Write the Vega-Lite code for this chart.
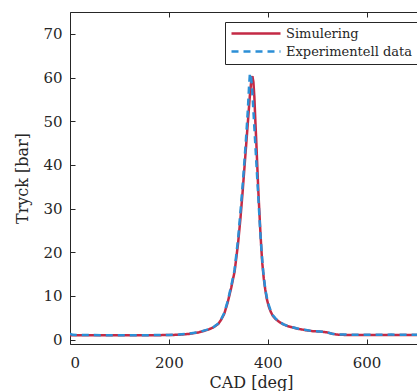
{
  "$schema": "https://vega.github.io/schema/vega-lite/v6.json",
  "width": 347,
  "height": 332,
  "autosize": {"type": "none"},
  "padding": {"left": 70, "top": 12, "right": 0, "bottom": 47},
  "background": "white",
  "config": {
    "view": {"stroke": null},
    "font": "DejaVu Serif",
    "axis": {
      "domainColor": "#262626",
      "tickColor": "#262626",
      "labelColor": "#262626",
      "titleColor": "#262626",
      "labelFontSize": 15,
      "titleFontSize": 16,
      "titleFontWeight": "normal",
      "tickSize": -5,
      "grid": false,
      "domainWidth": 1,
      "tickWidth": 1
    },
    "legend": {
      "orient": "none",
      "legendX": 155,
      "legendY": 10,
      "strokeColor": "#262626",
      "fillColor": "white",
      "padding": 5,
      "labelFontSize": 13,
      "labelColor": "#262626",
      "rowPadding": 4,
      "cornerRadius": 0
    }
  },
  "data": {
    "values": [
      {"serie": "Simulering", "cad": 0, "tryck": 1.0},
      {"serie": "Simulering", "cad": 40, "tryck": 1.0},
      {"serie": "Simulering", "cad": 80, "tryck": 0.98},
      {"serie": "Simulering", "cad": 120, "tryck": 1.0},
      {"serie": "Simulering", "cad": 160, "tryck": 1.0},
      {"serie": "Simulering", "cad": 200, "tryck": 1.05},
      {"serie": "Simulering", "cad": 220, "tryck": 1.12},
      {"serie": "Simulering", "cad": 240, "tryck": 1.3},
      {"serie": "Simulering", "cad": 260, "tryck": 1.65},
      {"serie": "Simulering", "cad": 280, "tryck": 2.3},
      {"serie": "Simulering", "cad": 290, "tryck": 2.8},
      {"serie": "Simulering", "cad": 300, "tryck": 3.6},
      {"serie": "Simulering", "cad": 306, "tryck": 4.6},
      {"serie": "Simulering", "cad": 312, "tryck": 5.9},
      {"serie": "Simulering", "cad": 319, "tryck": 8.5},
      {"serie": "Simulering", "cad": 326, "tryck": 11.8},
      {"serie": "Simulering", "cad": 333, "tryck": 15.6},
      {"serie": "Simulering", "cad": 340, "tryck": 22},
      {"serie": "Simulering", "cad": 345, "tryck": 28},
      {"serie": "Simulering", "cad": 349, "tryck": 33.5},
      {"serie": "Simulering", "cad": 353, "tryck": 39.5},
      {"serie": "Simulering", "cad": 357, "tryck": 45.5},
      {"serie": "Simulering", "cad": 361, "tryck": 51.5},
      {"serie": "Simulering", "cad": 364, "tryck": 56},
      {"serie": "Simulering", "cad": 367, "tryck": 59.6},
      {"serie": "Simulering", "cad": 369, "tryck": 60.3},
      {"serie": "Simulering", "cad": 371, "tryck": 59},
      {"serie": "Simulering", "cad": 373, "tryck": 55.5},
      {"serie": "Simulering", "cad": 375, "tryck": 50},
      {"serie": "Simulering", "cad": 377, "tryck": 45},
      {"serie": "Simulering", "cad": 379, "tryck": 39.5},
      {"serie": "Simulering", "cad": 381, "tryck": 34},
      {"serie": "Simulering", "cad": 383, "tryck": 29.5},
      {"serie": "Simulering", "cad": 385, "tryck": 25},
      {"serie": "Simulering", "cad": 387, "tryck": 21},
      {"serie": "Simulering", "cad": 389, "tryck": 17.5},
      {"serie": "Simulering", "cad": 392, "tryck": 14},
      {"serie": "Simulering", "cad": 395, "tryck": 11.5},
      {"serie": "Simulering", "cad": 398, "tryck": 9.4},
      {"serie": "Simulering", "cad": 402, "tryck": 7.6},
      {"serie": "Simulering", "cad": 406, "tryck": 6.4},
      {"serie": "Simulering", "cad": 410, "tryck": 5.5},
      {"serie": "Simulering", "cad": 416, "tryck": 4.7},
      {"serie": "Simulering", "cad": 424, "tryck": 4.0},
      {"serie": "Simulering", "cad": 432, "tryck": 3.5},
      {"serie": "Simulering", "cad": 440, "tryck": 3.1},
      {"serie": "Simulering", "cad": 450, "tryck": 2.8},
      {"serie": "Simulering", "cad": 460, "tryck": 2.5},
      {"serie": "Simulering", "cad": 475, "tryck": 2.2},
      {"serie": "Simulering", "cad": 490, "tryck": 1.95},
      {"serie": "Simulering", "cad": 505, "tryck": 1.85},
      {"serie": "Simulering", "cad": 515, "tryck": 1.75},
      {"serie": "Simulering", "cad": 522, "tryck": 1.6},
      {"serie": "Simulering", "cad": 530, "tryck": 1.35},
      {"serie": "Simulering", "cad": 540, "tryck": 1.15},
      {"serie": "Simulering", "cad": 555, "tryck": 1.08},
      {"serie": "Simulering", "cad": 580, "tryck": 1.05},
      {"serie": "Simulering", "cad": 620, "tryck": 1.05},
      {"serie": "Simulering", "cad": 660, "tryck": 1.05},
      {"serie": "Simulering", "cad": 700, "tryck": 1.05},
      {"serie": "Simulering", "cad": 720, "tryck": 1.05},
      {"serie": "Experimentell data", "cad": 0, "tryck": 1.35},
      {"serie": "Experimentell data", "cad": 5, "tryck": 1.1},
      {"serie": "Experimentell data", "cad": 40, "tryck": 1.05},
      {"serie": "Experimentell data", "cad": 80, "tryck": 1.0},
      {"serie": "Experimentell data", "cad": 120, "tryck": 1.0},
      {"serie": "Experimentell data", "cad": 160, "tryck": 1.02},
      {"serie": "Experimentell data", "cad": 200, "tryck": 1.08},
      {"serie": "Experimentell data", "cad": 220, "tryck": 1.15},
      {"serie": "Experimentell data", "cad": 240, "tryck": 1.35},
      {"serie": "Experimentell data", "cad": 260, "tryck": 1.7},
      {"serie": "Experimentell data", "cad": 280, "tryck": 2.35},
      {"serie": "Experimentell data", "cad": 290, "tryck": 2.85},
      {"serie": "Experimentell data", "cad": 300, "tryck": 3.7},
      {"serie": "Experimentell data", "cad": 306, "tryck": 4.7},
      {"serie": "Experimentell data", "cad": 312, "tryck": 6.1},
      {"serie": "Experimentell data", "cad": 319, "tryck": 8.8},
      {"serie": "Experimentell data", "cad": 326, "tryck": 12.2},
      {"serie": "Experimentell data", "cad": 333, "tryck": 16},
      {"serie": "Experimentell data", "cad": 340, "tryck": 23},
      {"serie": "Experimentell data", "cad": 345, "tryck": 29.5},
      {"serie": "Experimentell data", "cad": 349, "tryck": 35},
      {"serie": "Experimentell data", "cad": 353, "tryck": 41},
      {"serie": "Experimentell data", "cad": 357, "tryck": 47.5},
      {"serie": "Experimentell data", "cad": 360, "tryck": 53},
      {"serie": "Experimentell data", "cad": 362, "tryck": 57.5},
      {"serie": "Experimentell data", "cad": 364, "tryck": 61},
      {"serie": "Experimentell data", "cad": 366, "tryck": 60.5},
      {"serie": "Experimentell data", "cad": 368, "tryck": 58},
      {"serie": "Experimentell data", "cad": 370, "tryck": 54.5},
      {"serie": "Experimentell data", "cad": 373, "tryck": 48.5},
      {"serie": "Experimentell data", "cad": 376, "tryck": 42.5},
      {"serie": "Experimentell data", "cad": 379, "tryck": 36.5},
      {"serie": "Experimentell data", "cad": 382, "tryck": 30.5},
      {"serie": "Experimentell data", "cad": 385, "tryck": 24.5},
      {"serie": "Experimentell data", "cad": 388, "tryck": 19.5},
      {"serie": "Experimentell data", "cad": 391, "tryck": 15.5},
      {"serie": "Experimentell data", "cad": 394, "tryck": 12.5},
      {"serie": "Experimentell data", "cad": 397, "tryck": 10.3},
      {"serie": "Experimentell data", "cad": 401, "tryck": 8.3},
      {"serie": "Experimentell data", "cad": 406, "tryck": 6.6},
      {"serie": "Experimentell data", "cad": 410, "tryck": 5.6},
      {"serie": "Experimentell data", "cad": 416, "tryck": 4.8},
      {"serie": "Experimentell data", "cad": 424, "tryck": 4.05},
      {"serie": "Experimentell data", "cad": 432, "tryck": 3.5},
      {"serie": "Experimentell data", "cad": 440, "tryck": 3.15},
      {"serie": "Experimentell data", "cad": 450, "tryck": 2.85},
      {"serie": "Experimentell data", "cad": 460, "tryck": 2.55},
      {"serie": "Experimentell data", "cad": 475, "tryck": 2.25},
      {"serie": "Experimentell data", "cad": 490, "tryck": 1.95},
      {"serie": "Experimentell data", "cad": 505, "tryck": 1.85},
      {"serie": "Experimentell data", "cad": 515, "tryck": 1.8},
      {"serie": "Experimentell data", "cad": 522, "tryck": 1.6},
      {"serie": "Experimentell data", "cad": 530, "tryck": 1.35},
      {"serie": "Experimentell data", "cad": 540, "tryck": 1.2},
      {"serie": "Experimentell data", "cad": 560, "tryck": 1.15},
      {"serie": "Experimentell data", "cad": 600, "tryck": 1.12},
      {"serie": "Experimentell data", "cad": 650, "tryck": 1.15},
      {"serie": "Experimentell data", "cad": 700, "tryck": 1.12},
      {"serie": "Experimentell data", "cad": 720, "tryck": 1.12}
    ]
  },
  "encoding": {
    "x": {"field": "cad", "type": "quantitative", "scale": {"domain": [0, 702], "nice": false, "zero": false}},
    "y": {"field": "tryck", "type": "quantitative", "scale": {"domain": [-1, 75], "nice": false},
      "axis": {"values": [0, 10, 20, 30, 40, 50, 60, 70], "labelPadding": 13, "title": "Tryck [bar]", "titlePadding": 12}},
    "color": {"field": "serie", "type": "nominal",
      "scale": {"domain": ["Simulering", "Experimentell data"], "range": ["#C42A45", "#2C8FD6"]},
      "legend": {"title": null, "symbolType": "M-1,0H8.8", "symbolSize": 100, "symbolStrokeWidth": 2.5, "labelOffset": 43}},
    "strokeDash": {"field": "serie", "type": "nominal",
      "scale": {"domain": ["Simulering", "Experimentell data"], "range": [[1, 0], [7, 5]]},
      "legend": {"title": null, "symbolType": "M-1,0H8.8", "symbolSize": 100, "symbolStrokeWidth": 2.5, "labelOffset": 43}}
  },
  "layer": [
    {
      "transform": [{"filter": "datum.serie === 'Simulering'"}],
      "mark": {"type": "line", "strokeWidth": 2.5, "clip": true},
      "encoding": {
        "x": {"field": "cad", "type": "quantitative",
          "axis": {"values": [0, 200, 400, 600], "labelPadding": 16, "title": "CAD [deg]", "titlePadding": 4, "titleX": 181, "orient": "bottom"}}
      }
    },
    {
      "transform": [{"filter": "datum.serie === 'Experimentell data'"}],
      "mark": {"type": "line", "strokeWidth": 2.5, "clip": true},
      "encoding": {
        "x": {"field": "cad", "type": "quantitative", "axis": null}
      }
    },
    {
      "transform": [{"filter": "datum.serie === 'Simulering'"}, {"filter": "datum.cad > 1000"}],
      "mark": {"type": "rule", "opacity": 0},
      "encoding": {
        "x": {"field": "cad", "type": "quantitative",
          "axis": {"orient": "top", "values": [0, 200, 400, 600], "labels": false, "title": null}},
        "y": null,
        "color": null,
        "strokeDash": null
      }
    }
  ],
  "resolve": {"axis": {"x": "independent"}}
}
